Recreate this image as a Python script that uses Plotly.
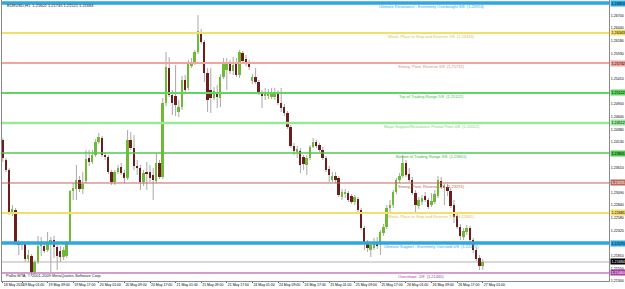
import plotly.graph_objects as go

symbol = "EURUSD,H1"

opens = [1.24166, 1.23759, 1.23555, 1.22681, 1.22742, 1.22070, 1.22030, 1.22050, 1.21745, 1.21806,
         1.21480, 1.21684, 1.22009, 1.22009, 1.21928, 1.22050, 1.22131, 1.21989, 1.21908, 1.21786,
         1.21806, 1.22070, 1.23128, 1.23169, 1.23352, 1.23169, 1.23332, 1.23800, 1.23718, 1.23861,
         1.24125, 1.24206, 1.23861, 1.23820, 1.23515, 1.23311, 1.23515, 1.23616, 1.23494, 1.23393,
         1.24166, 1.24003, 1.23637, 1.23596, 1.23311, 1.23515, 1.23515, 1.23454, 1.23332, 1.23698,
         1.23413, 1.24918, 1.25631, 1.25081, 1.25061, 1.24735, 1.24837, 1.25386, 1.25224, 1.25671,
         1.25732, 1.25956, 1.26343, 1.26160, 1.25529, 1.25183, 1.25020, 1.25142, 1.25020, 1.25447,
         1.25590, 1.25712, 1.25570, 1.25753, 1.25488, 1.25936, 1.25814, 1.25732, 1.25366, 1.25447,
         1.25346, 1.25122, 1.25061, 1.25061, 1.25041, 1.25041, 1.25102, 1.24918, 1.24837, 1.24715,
         1.24430, 1.24044, 1.23922, 1.23942, 1.23820, 1.23657, 1.23800, 1.24023, 1.24125, 1.24064,
         1.23962, 1.23800, 1.23576, 1.23352, 1.23433, 1.23393, 1.23006, 1.23067, 1.23087, 1.23026,
         1.22904, 1.22965, 1.22742, 1.22375, 1.22070, 1.21928, 1.21969, 1.22091, 1.22050, 1.22274,
         1.22396, 1.22782, 1.22843, 1.23108, 1.23352, 1.23433, 1.23698, 1.23474, 1.23352, 1.23087,
         1.22823, 1.22904, 1.23026, 1.22945, 1.22843, 1.22904, 1.23026, 1.23332, 1.23189, 1.23210,
         1.23128, 1.22843, 1.22620, 1.22396, 1.22192, 1.22294, 1.22375, 1.22131, 1.21928, 1.21765,
         1.21602]
highs = [1.24206, 1.23800, 1.23596, 1.22843, 1.22782, 1.22131, 1.22111, 1.22091, 1.21928, 1.21847,
         1.21724, 1.22213, 1.22192, 1.22070, 1.22294, 1.22192, 1.22213, 1.22030, 1.22009, 1.21989,
         1.22111, 1.23148, 1.23291, 1.23657, 1.23433, 1.23515, 1.23962, 1.23962, 1.23962, 1.24186,
         1.24308, 1.24247, 1.23922, 1.23861, 1.23555, 1.23555, 1.23657, 1.23698, 1.23555, 1.24369,
         1.24328, 1.24267, 1.23759, 1.23657, 1.23555, 1.23718, 1.23657, 1.23596, 1.23901, 1.23759,
         1.25020, 1.25956, 1.25854, 1.25183, 1.25692, 1.24980, 1.25468, 1.25488, 1.25793, 1.25834,
         1.25997, 1.26709, 1.26424, 1.26200, 1.25631, 1.25631, 1.25244, 1.25285, 1.25508, 1.25834,
         1.25834, 1.25793, 1.25854, 1.25834, 1.25997, 1.25976, 1.25895, 1.25793, 1.25508, 1.25631,
         1.25386, 1.25183, 1.25224, 1.25203, 1.25224, 1.25224, 1.25183, 1.25224, 1.24898, 1.24756,
         1.24471, 1.24105, 1.24044, 1.24003, 1.23861, 1.23861, 1.24064, 1.24206, 1.24166, 1.24105,
         1.24023, 1.23840, 1.23637, 1.23515, 1.23515, 1.23433, 1.23169, 1.23169, 1.23128, 1.23067,
         1.23047, 1.23006, 1.22782, 1.22416, 1.22131, 1.22091, 1.22172, 1.22192, 1.22335, 1.22457,
         1.22843, 1.22945, 1.23148, 1.23393, 1.23494, 1.23861, 1.23759, 1.23596, 1.23413, 1.23148,
         1.23006, 1.23047, 1.23108, 1.22986, 1.23087, 1.23148, 1.23433, 1.23413, 1.23271, 1.23271,
         1.23189, 1.22945, 1.22701, 1.22457, 1.22375, 1.22436, 1.22416, 1.22172, 1.21969, 1.21826,
         1.21745]
lows = [1.23718, 1.23515, 1.22640, 1.22620, 1.22030, 1.21826, 1.21928, 1.21684, 1.21684, 1.21399,
        1.21440, 1.21643, 1.21806, 1.21867, 1.21887, 1.21480, 1.21765, 1.21521, 1.21684, 1.21724,
        1.21765, 1.22050, 1.22945, 1.22945, 1.23108, 1.23067, 1.23291, 1.23637, 1.23677, 1.23820,
        1.24084, 1.23820, 1.23759, 1.23474, 1.23250, 1.23250, 1.23474, 1.23454, 1.23291, 1.23352,
        1.23962, 1.23555, 1.23454, 1.23148, 1.23230, 1.23148, 1.23311, 1.22945, 1.23291, 1.23372,
        1.23372, 1.24857, 1.25041, 1.24674, 1.24654, 1.24634, 1.24776, 1.25122, 1.25183, 1.25631,
        1.25692, 1.25915, 1.26119, 1.25346, 1.24735, 1.24715, 1.24980, 1.24817, 1.24837, 1.25407,
        1.25183, 1.25508, 1.25488, 1.25447, 1.25427, 1.25732, 1.25671, 1.25590, 1.25305, 1.25305,
        1.25081, 1.24817, 1.24980, 1.25000, 1.25000, 1.24980, 1.24878, 1.24735, 1.24654, 1.24390,
        1.24003, 1.23861, 1.23800, 1.23494, 1.23555, 1.23454, 1.23759, 1.24003, 1.24003, 1.23922,
        1.23759, 1.23515, 1.23311, 1.23311, 1.23291, 1.23006, 1.22945, 1.22986, 1.22904, 1.22864,
        1.22843, 1.22701, 1.22335, 1.21928, 1.21887, 1.21786, 1.21928, 1.21948, 1.21826, 1.22213,
        1.22355, 1.22701, 1.22782, 1.23067, 1.23291, 1.23393, 1.23413, 1.23311, 1.23047, 1.22701,
        1.22762, 1.22843, 1.22904, 1.22762, 1.22803, 1.22864, 1.22986, 1.23169, 1.22843, 1.23026,
        1.22782, 1.22477, 1.22355, 1.22131, 1.22131, 1.22233, 1.22070, 1.21867, 1.21704, 1.21521,
        1.21521]
closes = [1.23800, 1.23555, 1.22681, 1.22762, 1.22070, 1.22030, 1.22050, 1.21745, 1.21826, 1.21480,
          1.21684, 1.22009, 1.22050, 1.21908, 1.22070, 1.22131, 1.21989, 1.21806, 1.21786, 1.21928,
          1.22070, 1.23128, 1.23189, 1.23352, 1.23169, 1.23271, 1.23779, 1.23718, 1.23861, 1.24125,
          1.24227, 1.23861, 1.23820, 1.23515, 1.23311, 1.23515, 1.23596, 1.23494, 1.23393, 1.24166,
          1.24003, 1.23637, 1.23596, 1.23311, 1.23494, 1.23474, 1.23393, 1.23352, 1.23698, 1.23413,
          1.24918, 1.25651, 1.25081, 1.24918, 1.24878, 1.24837, 1.25386, 1.25183, 1.25732, 1.25753,
          1.25956, 1.26383, 1.26160, 1.25529, 1.24980, 1.25020, 1.25163, 1.25041, 1.25447, 1.25732,
          1.25712, 1.25570, 1.25692, 1.25488, 1.25956, 1.25773, 1.25732, 1.25651, 1.25447, 1.25346,
          1.25122, 1.25061, 1.25102, 1.25142, 1.25142, 1.25122, 1.24918, 1.24817, 1.24715, 1.24430,
          1.24044, 1.23942, 1.23983, 1.23657, 1.23677, 1.23800, 1.24023, 1.24125, 1.24044, 1.23962,
          1.23800, 1.23555, 1.23454, 1.23433, 1.23352, 1.23047, 1.23108, 1.23108, 1.22945, 1.22904,
          1.23006, 1.22742, 1.22375, 1.22070, 1.21969, 1.22030, 1.22091, 1.22009, 1.22294, 1.22396,
          1.22782, 1.22843, 1.23108, 1.23352, 1.23433, 1.23698, 1.23454, 1.23352, 1.23087, 1.22843,
          1.22945, 1.22986, 1.22945, 1.22803, 1.22925, 1.23067, 1.23352, 1.23210, 1.23230, 1.23128,
          1.22823, 1.22599, 1.22396, 1.22213, 1.22314, 1.22375, 1.22131, 1.21928, 1.21745, 1.21602,
          1.21684]

date_labels = ["18 May 2010", "19 May 01:00", "19 May 09:00", "19 May 17:00", "20 May 01:00",
               "20 May 09:00", "20 May 17:00", "21 May 01:00", "21 May 09:00", "21 May 17:00",
               "24 May 01:00", "24 May 09:00", "24 May 17:00", "25 May 01:00", "25 May 09:00",
               "25 May 17:00", "26 May 01:00", "26 May 09:00", "26 May 17:00", "27 May 01:00"]
date_label_bars = [0, 6, 14, 22, 30, 38, 46, 54, 62, 70, 78, 86, 94, 102, 110, 118, 126, 134, 142, 150]

# axis labels visible in the reference (those hidden under level boxes left out)
price_ticks = [1.26700, 1.26440, 1.26180, 1.25930, 1.25410, 1.24900, 1.24640,
               1.24380, 1.24130, 1.23610, 1.23090, 1.22840, 1.22580, 1.22320,
               1.21810, 1.21550, 1.21300]

level_names = ["Ultimate Resistance - Extremely Overbought 8/8",
               "Weak, Place to Stop and Reverse 7/8",
               "Strong, Pivot, Reverse 6/8",
               "Top of Trading Range 5/8",
               "Major Support/Resistance Pivotal Point 4/8",
               "Bottom of Trading Range 3/8",
               "Strong, Pivot, Reverse 2/8",
               "Weak, Place to Stop and Reverse 1/8",
               "Ultimate Support - Extremely Oversold 0/8",
               "Overshoot -1/8"]
level_values = [1.26953, 1.26343, 1.25732, 1.25122, 1.24512, 1.23901, 1.23291, 1.22681, 1.22070, 1.21460]

# styles
level_colors = ["#2ea7de", "#f3de6c", "#f0a49a", "#62d462", "#96ea96", "#52c852",
                "#b9695d", "#f3de6c", "#2ea7de", "#a93ca6"]
level_widths = [3.5, 2, 2, 2, 2.5, 1.5, 1, 2, 3.5, 1]
level_text_colors = ["#35a9dc", "#d9c243", "#e08a80", "#45c045", "#7ad67a", "#3cb43c",
                     "#b0645a", "#d9c243", "#35a9dc", "#a93ca6"]
box_text_colors = ["#000000", "#000000", "#000000", "#000000", "#000000", "#000000",
                   "#ffffff", "#000000", "#000000", "#ffffff"]
label_x = [0.708, 0.708, 0.708, 0.708, 0.708, 0.708, 0.708, 0.708, 0.708, 0.69]
BULL = "#6fb936"
BEAR = "#6c1e1e"
WICK = "#a8a8a8"
FONT = "Arial"

n = len(opens)
xs = list(range(n))

fig = go.Figure()

# wicks (upper and lower, kept out of the body)
wx, wy = [], []
for i in range(n):
    top = max(opens[i], closes[i])
    bot = min(opens[i], closes[i])
    wx += [xs[i], xs[i], None, xs[i], xs[i], None]
    wy += [highs[i], top, None, bot, lows[i], None]
fig.add_trace(go.Scatter(x=wx, y=wy, mode="lines", line=dict(color=WICK, width=1),
                         hoverinfo="skip", showlegend=False))

base = [min(o, c) for o, c in zip(opens, closes)]
body = [max(abs(c - o), 0.00003) for o, c in zip(opens, closes)]
cols = [BULL if c >= o else BEAR for o, c in zip(opens, closes)]
fig.add_trace(go.Bar(x=xs, y=body, base=base, width=0.62,
                     marker=dict(color=cols, line=dict(width=0)),
                     hoverinfo="skip", showlegend=False))

shapes = []
annotations = []
# bid line
shapes.append(dict(type="line", xref="paper", x0=0, x1=1, yref="y", y0=closes[-1], y1=closes[-1],
                   line=dict(color="#d9d9d9", width=2), layer="below"))
for name, v, c, w, tc, bc, lx in zip(level_names, level_values, level_colors, level_widths,
                                     level_text_colors, box_text_colors, label_x):
    shapes.append(dict(type="line", xref="paper", x0=0, x1=1, yref="y", y0=v, y1=v,
                       line=dict(color=c, width=w), layer="above"))
    annotations.append(dict(xref="paper", x=lx, yref="y", y=v, yshift=-3.5,
                            text=f"{name}  ({v:.5f})", showarrow=False,
                            font=dict(family=FONT, size=4, color=tc),
                            xanchor="center", yanchor="middle"))
    annotations.append(dict(xref="paper", x=1, xshift=1, yref="y", y=v,
                            text=f"{v:.5f}", showarrow=False, bgcolor=c,
                            font=dict(family=FONT, size=3.7, color=bc),
                            xanchor="left", yanchor="middle", borderpad=0.5))
annotations.append(dict(xref="paper", x=1, xshift=1, yref="y", y=closes[-1],
                        text=f"{closes[-1]:.5f}", showarrow=False, bgcolor="#000000",
                        font=dict(family=FONT, size=3.7, color="#ffffff"),
                        xanchor="left", yanchor="middle", borderpad=0.5))
annotations.append(dict(xref="paper", x=0, xshift=3, yref="paper", y=1, yshift=-1,
                        text=f"{symbol}  {opens[-1]:.5f} {highs[-1]:.5f} {lows[-1]:.5f} {closes[-1]:.5f}",
                        showarrow=False, font=dict(family=FONT, size=4, color="#222222"),
                        xanchor="left", yanchor="top"))
annotations.append(dict(xref="paper", x=0, xshift=2, yref="paper", y=0, yshift=1,
                        text="Pollro MTA, \u00a9 2001-2009 MetaQuotes Software Corp.",
                        showarrow=False, font=dict(family=FONT, size=4, color="#222222"),
                        xanchor="left", yanchor="bottom"))

fig.update_layout(
    width=625, height=289,
    margin=dict(l=2, r=16, t=0, b=8),
    paper_bgcolor="white", plot_bgcolor="white",
    showlegend=False, bargap=0,
    shapes=shapes, annotations=annotations,
    xaxis=dict(range=[-0.25, 189.44], showgrid=False, zeroline=False, automargin=False,
               tickvals=date_label_bars, ticktext=date_labels, tickangle=0,
               ticklabelposition="outside right",
               tickfont=dict(family=FONT, size=3.5, color="#000000"),
               ticks="outside", ticklen=1, tickcolor="#606060",
               showline=True, mirror=True, linecolor="#8a8a8a", linewidth=1),
    yaxis=dict(range=[1.21297, 1.27014], side="right", showgrid=False, zeroline=False,
               automargin=False,
               tickvals=price_ticks, ticktext=[f"{t:.5f}" for t in price_ticks],
               tickfont=dict(family=FONT, size=3.6, color="#000000"),
               ticks="", ticklabelstandoff=0,
               showline=True, mirror=True, linecolor="#8a8a8a", linewidth=1),
)

fig.write_html("out.html")
